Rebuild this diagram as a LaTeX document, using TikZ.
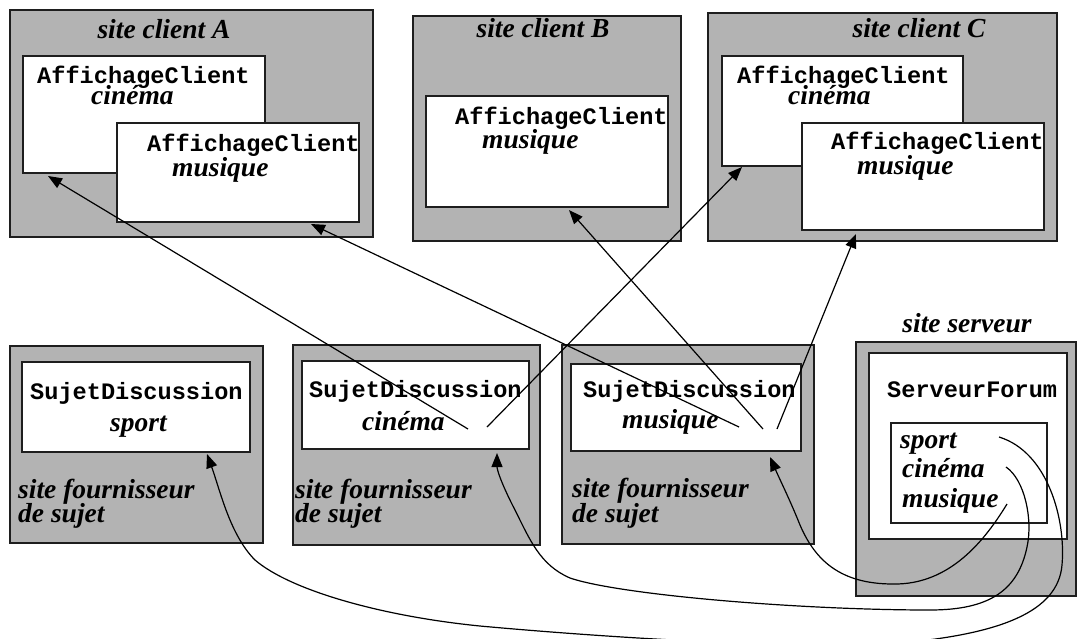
\documentclass[tikz,border=0pt]{standalone}
\usepackage{fontspec}
\setmainfont{Liberation Serif}
\setmonofont{Liberation Mono}
\usetikzlibrary{arrows.meta,fit}
\definecolor{boxgray}{RGB}{179,179,179}
\definecolor{edge}{RGB}{30,30,30}
\tikzset{
 gbox/.style={draw=edge, line width=1.8pt, fill=boxgray, inner sep=0pt},
 wbox/.style={draw=edge, line width=1.8pt, fill=white, inner sep=0pt},
 ital/.style={font=\fontsize{27.5}{30}\selectfont\bfseries\itshape, inner sep=0pt, anchor=base west},
 ititle/.style={font=\fontsize{27.5}{30}\selectfont\bfseries\itshape, inner sep=0pt, anchor=base},
 mono/.style={font=\fontsize{23.6}{26}\selectfont\ttfamily\bfseries, inner sep=0pt, anchor=base west},
 conn/.style={line width=1.2pt, draw=black, -{Triangle[length=14pt,width=11pt]}},
}
\begin{document}
\begin{tikzpicture}[x=1pt,y=-1pt]
\useasboundingbox (0,0) rectangle (1078,638);
\clip (0,0) rectangle (1078,638);
% ---------- client sites ----------
\node[gbox, fit={(10,10) (373,237)}] (siteA) {};
\node[wbox, fit={(23,56) (265,173)}] (Acin) {};
\node[wbox, fit={(117,123) (359,222)}] (Amus) {};
\node[ititle] (tA) at (164,38) {site client A};
\node[mono] (Acin1) at (37,83) {AffichageClient};
\node[ital] (Acin2) at (91,104) {cinéma};
\node[mono] (Amus1) at (147,151) {AffichageClient};
\node[ital] (Amus2) at (172,176) {musique};

\node[gbox, fit={(413,16) (681,241)}] (siteB) {};
\node[wbox, fit={(426,96) (668,207)}] (Bmus) {};
\node[ititle] (tB) at (543,37) {site client B};
\node[mono] (Bmus1) at (455,124) {AffichageClient};
\node[ital] (Bmus2) at (482,148) {musique};

\node[gbox, fit={(708,13) (1057,241)}] (siteC) {};
\node[wbox, fit={(722,56) (963,166)}] (Ccin) {};
\node[wbox, fit={(802,123) (1044,230)}] (Cmus) {};
\node[ititle] (tC) at (919,37) {site client C};
\node[mono] (Ccin1) at (737,83) {AffichageClient};
\node[ital] (Ccin2) at (788,104) {cinéma};
\node[mono] (Cmus1) at (831,149) {AffichageClient};
\node[ital] (Cmus2) at (857,174) {musique};

% ---------- provider sites ----------
\node[gbox, fit={(10,346) (263,543)}] (siteS) {};
\node[wbox, fit={(22,362) (250,452)}] (Ssd) {};
\node[mono] (Ssd1) at (30,399) {SujetDiscussion};
\node[ital] (Ssd2) at (110,431) {sport};
\node[ital] (Sf1) at (18,498) {site fournisseur};
\node[ital] (Sf2) at (18,522) {de sujet};

\node[gbox, fit={(293,345) (540,545)}] (siteK) {};
\node[wbox, fit={(302,361) (529,449)}] (Ksd) {};
\node[mono] (Ksd1) at (309,397) {SujetDiscussion};
\node[ital] (Ksd2) at (362,430) {cinéma};
\node[ital] (Kf1) at (295,498) {site fournisseur};
\node[ital] (Kf2) at (295,522) {de sujet};

\node[gbox, fit={(562,345) (814,544)}] (siteM) {};
\node[wbox, fit={(571,364) (801,451)}] (Msd) {};
\node[mono] (Msd1) at (583,397) {SujetDiscussion};
\node[ital] (Msd2) at (622,428) {musique};
\node[ital] (Mf1) at (572,497) {site fournisseur};
\node[ital] (Mf2) at (572,522) {de sujet};

% ---------- server site ----------
\node[ititle] (tS) at (967,332) {site serveur};
\node[gbox, fit={(856,342) (1076,596)}] (siteSrv) {};
\node[wbox, fit={(869,353) (1067,539)}] (Srv) {};
\node[wbox, fit={(891,423) (1047,523)}] (List) {};
\node[mono] (Srv1) at (887,397) {ServeurForum};
\node[ital] (L1) at (900,448) {sport};
\node[ital] (L2) at (902,477) {cinéma};
\node[ital] (L3) at (902,507) {musique};

% ---------- connector ends ----------
\coordinate (kA) at (468,429);
\coordinate (kC) at (487,427);
\coordinate (mA) at (739,427);
\coordinate (mB) at (763,429);
\coordinate (mC) at (777,429);
\coordinate (tAcin) at (48,176);
\coordinate (tAmus) at (311,224);
\coordinate (tBmus) at (569,210);
\coordinate (tCcin) at (742,167);
\coordinate (tCmus) at (856,234);
\coordinate (lS) at (999,437);
\coordinate (lK) at (1006,467);
\coordinate (lM) at (1007,504);
\coordinate (pS) at (207,454);
\coordinate (pK) at (497,453);
\coordinate (pM) at (770,457);

% ---------- straight connectors ----------
\draw[conn] (kA) -- (tAcin);
\draw[conn] (kC) -- (tCcin);
\draw[conn] (mA) -- (tAmus);
\draw[conn] (mB) -- (tBmus);
\draw[conn] (mC) -- (tCmus);

% ---------- curved connectors ----------
\draw[conn] (lS) .. controls (1048,452) and (1066,520) .. (1062,565)
  .. controls (1058,612) and (1000,634) .. (900,643)
  .. controls (800,650) and (600,637) .. (480,626)
  .. controls (380,616) and (290,590) .. (255,560)
  .. controls (230,535) and (220,490) .. (pS);
\draw[conn] (lK) .. controls (1025,480) and (1033,520) .. (1027,547)
  .. controls (1018,590) and (990,610) .. (930,610)
  .. controls (800,610) and (620,595) .. (570,578)
  .. controls (540,565) and (530,540) .. (515,510)
  .. controls (502,485) and (497,470) .. (pK);
\draw[conn] (lM) .. controls (985,540) and (950,585) .. (893,584)
  .. controls (840,584) and (815,560) .. (800,525)
  .. controls (790,500) and (780,480) .. (pM);
\end{tikzpicture}
\end{document}
